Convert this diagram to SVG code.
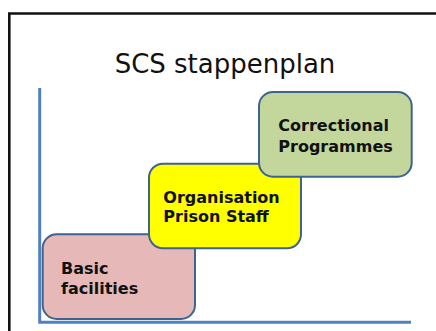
<svg xmlns="http://www.w3.org/2000/svg" width="436" height="331" viewBox="0 0 436 331">
<style>
.box{stroke:#3f6391;stroke-width:2}
.lbl{font-family:"DejaVu Sans","Verdana",sans-serif;font-weight:bold;font-size:16px;fill:#111}
.axis{stroke:#4f81bd;stroke-width:3;fill:none}
</style>
<rect x="0" y="0" width="436" height="331" fill="#fff"/>
<path d="M9.3,331 V13.5 H436" fill="none" stroke="#111" stroke-width="2.6"/>
<text x="225" y="73" text-anchor="middle" font-family="DejaVu Sans, Verdana, sans-serif" font-size="26" fill="#111">SCS stappenplan</text>
<g id="connectors">
<path class="axis" d="M39.7,88 V322.3 H411"/>
</g>
<g id="basic">
<rect class="box" x="42.7" y="234.3" width="152.3" height="84.7" rx="14" fill="#e6b9b8"/>
<text class="lbl" x="61" y="274">Basic</text>
<text class="lbl" x="61" y="294">facilities</text>
</g>
<g id="organisation">
<rect class="box" x="149" y="163.7" width="152" height="84.6" rx="14" fill="#ffff00"/>
<text class="lbl" x="163.3" y="203">Organisation</text>
<text class="lbl" x="163.3" y="222">Prison Staff</text>
</g>
<g id="correctional">
<rect class="box" x="259" y="92" width="152.7" height="84.7" rx="14" fill="#c3d69b"/>
<text class="lbl" x="278.3" y="130.5">Correctional</text>
<text class="lbl" x="278.3" y="151.5">Programmes</text>
</g>
</svg>
